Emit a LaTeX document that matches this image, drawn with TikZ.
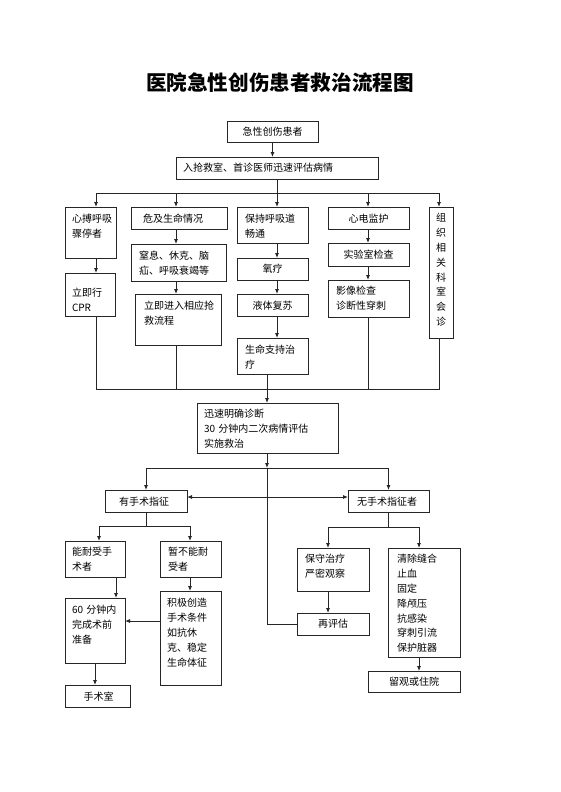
\documentclass[tikz,border=0pt]{standalone}
\usepackage{fontspec}
\setmainfont{Noto Sans CJK SC}
\usetikzlibrary{arrows.meta,calc}
\tikzset{
  box/.style={draw=black!85, line width=0.8pt, inner sep=0pt, outer sep=0pt},
  txt/.style={inner sep=0pt, outer sep=0pt, font=\fontsize{10}{14.8}\selectfont, text width=150pt, align=left, anchor=base west},
  ctxt/.style={inner sep=0pt, outer sep=0pt, font=\fontsize{10}{14.8}\selectfont, text width=100pt, align=center, anchor=base},
  conn/.style={draw=black!85, line width=0.8pt},
  arr/.style={conn, -{Latex[length=5pt,width=4pt]}},
  darr/.style={conn, {Latex[length=5pt,width=4pt]}-{Latex[length=5pt,width=4pt]}}
}
% box: name, x1, y1, x2, y2
\newcommand\bx[5]{\node[box, minimum width={#4-#2}, minimum height={#5-#3}] (#1) at ({(#2+#4)/2},{(#3+#5)/2}) {};}
% left text: name, x, first line centre y, text
\newcommand\lt[4]{\node[txt] (#1) at (#2,{#3+3.8}) {#4};}
% centred text
\newcommand\ct[4]{\node[ctxt] (#1) at (#2,{#3+3.8}) {#4};}
\begin{document}
\begin{tikzpicture}[x=1pt,y=-1pt]
\useasboundingbox (0,0) rectangle (560,792);
\fill[white] (0,0) rectangle (560,792);

\node[inner sep=0pt, font=\fontsize{20.6}{24}\selectfont\bfseries] (title) at (280,83) {医院急性创伤患者救治流程图};

% boxes
\bx{n1}{227}{121}{318}{142}
\bx{n2}{176}{157}{378}{179}
\bx{n3}{65}{207}{116}{258}
\bx{n4}{131}{207}{227}{229}
\bx{n5}{237}{207}{308}{243}
\bx{n6}{328}{207}{409}{229}
\bx{n7}{429}{207}{453}{338}
\bx{n8}{131}{244}{226}{281}
\bx{n9}{237}{258}{308}{280}
\bx{n10}{237}{294}{308}{316}
\bx{n11}{328}{243}{409}{266}
\bx{n12}{65}{273}{115}{316}
\bx{n13}{135}{294}{221}{345}
\bx{n14}{328}{280}{409}{317}
\bx{n15}{237}{338}{308}{374}
\bx{n16}{197}{403}{338}{453}
\bx{n17}{105}{490}{187}{512}
\bx{n18}{348}{490}{429}{512}
\bx{n19}{65}{541}{125}{577}
\bx{n20}{160}{541}{221}{577}
\bx{n21}{65}{598}{125}{663}
\bx{n22}{160}{591}{221}{685}
\bx{n23}{65}{685}{130}{707}
\bx{n24}{297}{548}{369}{591}
\bx{n25}{297}{613}{369}{635}
\bx{n26}{388}{548}{460}{657}
\bx{n27}{368}{671}{460}{692}

% texts
\ct{t1}{272.5}{132}{急性创伤患者}
\lt{t2}{183}{168}{入抢救室、首诊医师迅速评估病情}
\lt{t3}{72}{219}{心搏呼吸\\骤停者}
\lt{t4}{143}{219}{危及生命情况}
\lt{t5}{245}{219}{保持呼吸道\\畅通}
\ct{t6}{368.5}{219}{心电监护}
\ct{t7}{441}{218}{组\\织\\相\\关\\科\\室\\会\\诊}
\lt{t8}{139}{255.5}{窒息、休克、脑\\疝、呼吸衰竭等}
\ct{t9}{272.5}{269}{氧疗}
\ct{t10}{272.5}{305.5}{液体复苏}
\ct{t11}{368.5}{255}{实验室检查}
\lt{t12}{72}{293}{立即行\\CPR}
\lt{t13}{144}{306}{立即进入相应抢\\救流程}
\lt{t14}{336}{291}{影像检查\\诊断性穿刺}
\lt{t15}{245}{350}{生命支持治\\疗}
\lt{t16}{204}{414}{迅速明确诊断\\30 分钟内二次病情评估\\实施救治}
\ct{t17}{144}{502}{有手术指征}
\ct{t18}{387}{502}{无手术指征者}
\lt{t19}{72}{552}{能耐受手\\术者}
\lt{t20}{168}{552}{暂不能耐\\受者}
\lt{t21}{72}{610}{60 分钟内\\完成术前\\准备}
\lt{t22}{167}{603}{积极创造\\手术条件\\如抗休\\克、稳定\\生命体征}
\ct{t23}{98.5}{697}{手术室}
\lt{t24}{305}{559}{保守治疗\\严密观察}
\ct{t25}{333}{624}{再评估}
\lt{t26}{397}{559}{清除缝合\\止血\\固定\\降颅压\\抗感染\\穿刺引流\\保护脏器}
\ct{t27}{414}{682}{留观或住院}

% column / row coordinates
\coordinate (xA) at (96,0);
\coordinate (xB) at (176,0);
\coordinate (xC) at (277,0);
\coordinate (xM) at (267,0);
\coordinate (xD) at (368,0);
\coordinate (xE) at (439,0);
\coordinate (xH) at (99,0);
\coordinate (xI) at (190,0);
\coordinate (xJ) at (116,0);
\coordinate (xK) at (95,0);
\coordinate (xL) at (328,0);
\coordinate (xN) at (419,0);
\coordinate (r1) at (0,193);
\coordinate (r2) at (0,389);
\coordinate (r3) at (0,468);
\coordinate (r4) at (0,497);
\coordinate (r6) at (0,526);
\coordinate (r7) at (0,621);
\coordinate (r8) at (0,527);

% connectors, top part
\draw[arr] (n1.south) -- (n1.south |- n2.north);
\draw[conn] (n2.south) -- (n2.south |- r1);
\draw[conn] (xA |- r1) -- (xE |- r1);
\draw[arr] (xA |- r1) -- (xA |- n3.north);
\draw[arr] (xB |- r1) -- (xB |- n4.north);
\draw[arr] (xC |- r1) -- (xC |- n5.north);
\draw[arr] (xD |- r1) -- (xD |- n6.north);
\draw[arr] (xE |- r1) -- (xE |- n7.north);
\draw[arr] (xA |- n3.south) -- (xA |- n12.north);
\draw[arr] (xB |- n4.south) -- (xB |- n8.north);
\draw[arr] (xB |- n8.south) -- (xB |- n13.north);
\draw[arr] (xC |- n5.south) -- (xC |- n9.north);
\draw[arr] (xC |- n9.south) -- (xC |- n10.north);
\draw[arr] (xC |- n10.south) -- (xC |- n15.north);
\draw[arr] (xD |- n6.south) -- (xD |- n11.north);
\draw[arr] (xD |- n11.south) -- (xD |- n14.north);
\draw[conn] (xA |- n12.south) -- (xA |- r2) -- (xE |- r2) -- (xE |- n7.south);
\draw[conn] (xB |- n13.south) -- (xB |- r2);
\draw[conn] (xM |- n15.south) -- (xM |- r2);
\draw[conn] (xD |- n14.south) -- (xD |- r2);
\draw[arr] (xM |- r2) -- (xM |- n16.north);
\draw[arr] (xM |- n16.south) -- (xM |- r3);

% middle
\draw[conn] (n17.north |- r3) -- (n18.north |- r3);
\draw[arr] (n17.north |- r3) -- (n17.north);
\draw[arr] (n18.north |- r3) -- (n18.north);
\draw[conn] (xM |- r3) -- (xM |- n25.west) -- (n25.west);
\draw[darr] (n17.east |- r4) -- (n18.west |- r4);

% left lower
\draw[conn] (n17.south) -- (n17.south |- r6);
\draw[conn] (xH |- r6) -- (xI |- r6);
\draw[arr] (xH |- r6) -- (xH |- n19.north);
\draw[arr] (xI |- r6) -- (xI |- n20.north);
\draw[arr] (xJ |- n19.south) -- (xJ |- n21.north);
\draw[arr] (xI |- n20.south) -- (xI |- n22.north);
\draw[arr] (n22.west |- r7) -- (n21.east |- r7);
\draw[arr] (xK |- n21.south) -- (xK |- n23.north);

% right lower
\draw[conn] (n18.south) -- (n18.south |- r8);
\draw[conn] (xL |- r8) -- (xN |- r8);
\draw[arr] (xL |- r8) -- (xL |- n24.north);
\draw[arr] (xN |- r8) -- (xN |- n26.north);
\draw[arr] (xL |- n24.south) -- (xL |- n25.north);
\draw[arr] (xN |- n26.south) -- (xN |- n27.north);
\end{tikzpicture}
\end{document}
